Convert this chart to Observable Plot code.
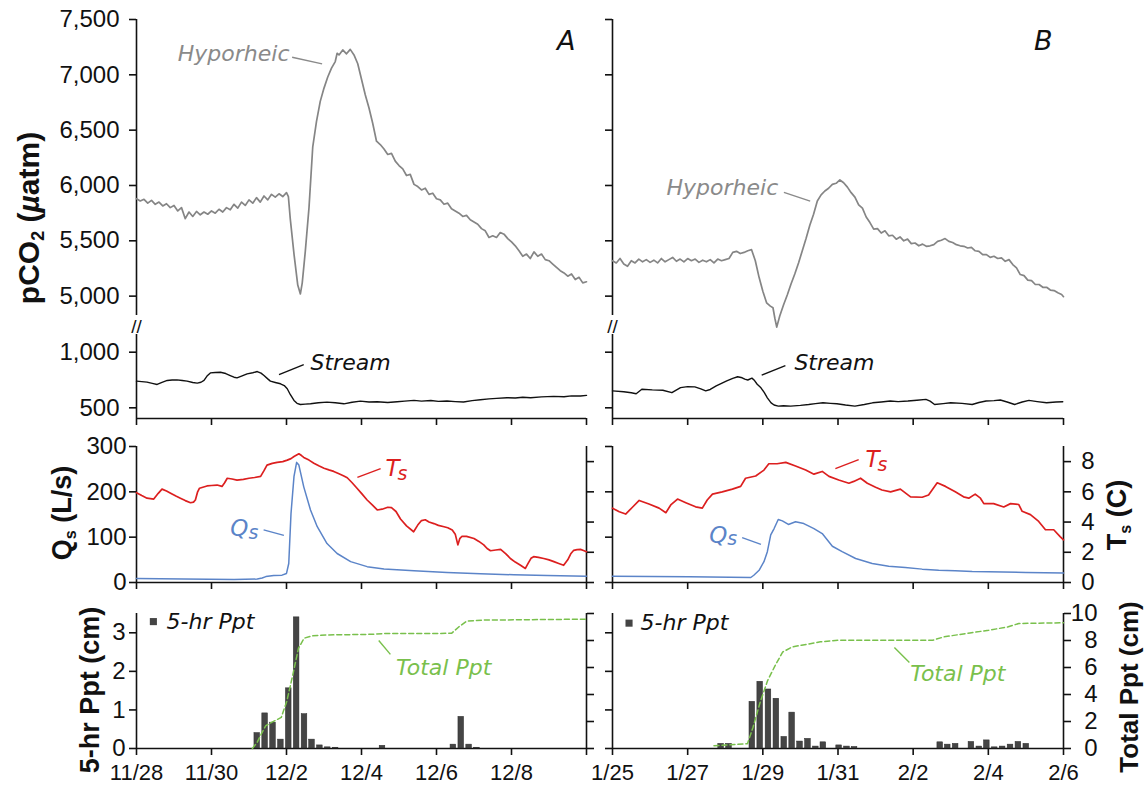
<!DOCTYPE html>
<html><head><meta charset="utf-8">
<script src="https://cdn.jsdelivr.net/npm/d3@7"></script>
<script src="https://cdn.jsdelivr.net/npm/@observablehq/plot@0.6"></script>
<style>
body{margin:0;background:#fff;}
#fig{position:relative;width:1147px;height:788px;overflow:hidden;background:#fff;font-family:"Liberation Sans",Arial,Helvetica,sans-serif;}
#fig svg{position:absolute;background:transparent;overflow:visible;}
.ttl{position:absolute;white-space:nowrap;font-weight:bold;color:#111;transform:translate(-50%,-50%) rotate(-90deg);line-height:1;}
.ttl sub{font-size:0.6em;vertical-align:baseline;position:relative;top:0.3em;}
</style></head><body><div id="fig">
<div class="ttl" style="left:29px;top:218px;font-size:30px">pCO<sub>2</sub> (<i>µ</i>atm)</div>
<div class="ttl" style="left:62px;top:513px;font-size:27px">Q<sub>s</sub> (L/s)</div>
<div class="ttl" style="left:90px;top:690px;font-size:27px">5-hr Ppt (cm)</div>
<div class="ttl" style="left:1117px;top:515px;font-size:27px">T<sub>s</sub> (C)</div>
<div class="ttl" style="left:1129px;top:687px;font-size:26px">Total Ppt (cm)</div>
</div>
<script>
// ---------------- data (x = days since first tick of each panel) ----------------
const xTickDays = [0, 2, 4, 6, 8, 10, 12];
const xLabelsA = ["11/28", "11/30", "12/2", "12/4", "12/6", "12/8", ""];
const xLabelsB = ["1/25", "1/27", "1/29", "1/31", "2/2", "2/4", "2/6"];
const hypTicks = [5000, 5500, 6000, 6500, 7000, 7500];
const streamTicks = [500, 1000];
const qTicks = [0, 100, 200, 300];
const tsTicks = [0, 2, 4, 6, 8];
const pptTicks = [0, 1, 2, 3];
const totTicks = [0, 2, 4, 6, 8, 10];

const hypDomain = [4825, 7500];
const streamDomain = [404, 1159];
const qDomain = [0, 300];
const tsMax = 9;
const pptDomain = [0, 3.5];
const totMax = 10;

const hyporheicA = [[0,5880],[0.1,5860],[0.2,5875],[0.3,5840],[0.4,5865],[0.5,5830],[0.6,5850],[0.7,5815],[0.8,5835],[0.9,5800],[1.0,5820],[1.1,5770],[1.2,5800],[1.3,5700],[1.4,5760],[1.5,5720],[1.6,5765],[1.7,5735],[1.8,5760],[1.9,5740],[2.0,5770],[2.1,5750],[2.2,5785],[2.3,5760],[2.4,5800],[2.5,5780],[2.6,5830],[2.7,5795],[2.8,5850],[2.9,5820],[3.0,5870],[3.1,5840],[3.2,5890],[3.3,5850],[3.4,5905],[3.5,5870],[3.6,5920],[3.7,5895],[3.8,5925],[3.9,5900],[4.0,5935],[4.05,5900],[4.1,5700],[4.2,5380],[4.3,5100],[4.37,5020],[4.42,5120],[4.5,5400],[4.6,5800],[4.7,6350],[4.8,6580],[4.9,6760],[5.0,6880],[5.1,6980],[5.2,7060],[5.3,7120],[5.35,7195],[5.4,7180],[5.5,7225],[5.6,7190],[5.7,7230],[5.8,7180],[5.9,7100],[6.0,6960],[6.1,6820],[6.2,6700],[6.3,6560],[6.4,6400],[6.5,6370],[6.6,6330],[6.7,6280],[6.8,6290],[6.9,6220],[7.0,6180],[7.1,6150],[7.2,6090],[7.3,6100],[7.4,6010],[7.5,5990],[7.6,5960],[7.7,5975],[7.8,5920],[7.9,5930],[8.0,5880],[8.1,5870],[8.2,5830],[8.3,5840],[8.4,5790],[8.5,5770],[8.6,5750],[8.7,5720],[8.8,5730],[8.9,5690],[9.0,5670],[9.1,5650],[9.2,5610],[9.3,5590],[9.4,5530],[9.5,5545],[9.6,5530],[9.7,5575],[9.8,5560],[9.9,5520],[10.0,5490],[10.1,5455],[10.2,5410],[10.3,5360],[10.4,5380],[10.5,5340],[10.6,5400],[10.7,5360],[10.8,5380],[10.9,5330],[11.0,5320],[11.1,5290],[11.2,5260],[11.3,5230],[11.4,5210],[11.5,5180],[11.6,5200],[11.7,5150],[11.8,5170],[11.9,5120],[12.0,5130]];

const hyporheicB = [[0,5320],[0.1,5300],[0.2,5340],[0.3,5290],[0.4,5270],[0.5,5320],[0.6,5300],[0.7,5335],[0.8,5310],[0.9,5330],[1.0,5305],[1.1,5325],[1.2,5300],[1.3,5340],[1.4,5310],[1.5,5330],[1.6,5350],[1.7,5315],[1.8,5335],[1.9,5310],[2.0,5340],[2.1,5320],[2.2,5335],[2.3,5305],[2.4,5325],[2.5,5310],[2.6,5330],[2.7,5300],[2.8,5335],[2.9,5320],[3.0,5330],[3.1,5340],[3.2,5395],[3.3,5405],[3.4,5385],[3.5,5395],[3.6,5410],[3.7,5420],[3.8,5320],[3.9,5170],[4.0,5045],[4.1,4940],[4.2,4910],[4.27,4895],[4.32,4800],[4.37,4720],[4.45,4820],[4.55,4920],[4.65,5010],[4.75,5110],[4.85,5200],[4.95,5300],[5.05,5410],[5.15,5520],[5.25,5640],[5.35,5740],[5.45,5860],[5.55,5915],[5.65,5950],[5.75,5975],[5.85,6010],[5.95,6020],[6.05,6050],[6.15,6025],[6.25,5985],[6.35,5935],[6.45,5895],[6.55,5825],[6.65,5795],[6.75,5715],[6.85,5665],[6.95,5605],[7.05,5610],[7.15,5570],[7.25,5590],[7.35,5545],[7.45,5550],[7.55,5515],[7.65,5535],[7.75,5500],[7.85,5515],[7.95,5475],[8.05,5480],[8.15,5455],[8.25,5470],[8.35,5450],[8.45,5455],[8.55,5465],[8.65,5495],[8.75,5505],[8.85,5520],[8.95,5495],[9.05,5485],[9.15,5465],[9.25,5455],[9.35,5450],[9.45,5435],[9.55,5440],[9.65,5410],[9.75,5405],[9.85,5375],[9.95,5375],[10.05,5350],[10.15,5360],[10.25,5340],[10.35,5345],[10.45,5315],[10.55,5330],[10.65,5285],[10.75,5255],[10.85,5195],[10.95,5185],[11.05,5145],[11.15,5140],[11.25,5105],[11.35,5105],[11.45,5080],[11.55,5080],[11.65,5055],[11.75,5050],[11.85,5030],[11.95,5015],[12.0,4995]];

const streamA = [[0,740],[0.14,735],[0.28,731],[0.42,720],[0.55,710],[0.68,728],[0.82,746],[0.95,750],[1.08,751],[1.22,745],[1.35,740],[1.5,728],[1.62,722],[1.72,730],[1.8,746],[1.88,785],[1.97,814],[2.1,818],[2.24,820],[2.38,808],[2.5,790],[2.6,775],[2.68,769],[2.8,785],[2.95,805],[3.1,815],[3.22,826],[3.32,812],[3.4,790],[3.5,760],[3.57,740],[3.7,728],[3.84,716],[3.94,700],[4.02,671],[4.1,620],[4.2,566],[4.28,540],[4.37,530],[4.5,533],[4.64,536],[4.85,545],[5.08,551],[5.3,545],[5.53,536],[5.75,550],[5.97,560],[6.2,552],[6.42,554],[6.7,548],[6.95,554],[7.15,560],[7.4,567],[7.6,560],[7.85,566],[8.05,558],[8.28,561],[8.5,556],[8.72,552],[8.95,565],[9.17,573],[9.4,580],[9.6,585],[9.88,591],[10.1,588],[10.3,595],[10.51,591],[10.8,598],[11.12,603],[11.4,600],[11.6,607],[11.84,606],[12,612]];

const streamB = [[0,652],[0.3,645],[0.5,635],[0.63,627],[0.78,667],[1.06,661],[1.34,658],[1.58,636],[1.81,682],[2.0,690],[2.19,688],[2.35,670],[2.48,652],[2.6,665],[2.76,697],[2.9,720],[3.04,742],[3.2,765],[3.33,779],[3.45,770],[3.52,758],[3.6,750],[3.71,767],[3.78,745],[3.85,712],[3.95,680],[4.04,636],[4.12,590],[4.22,545],[4.3,525],[4.41,515],[4.55,518],[4.74,515],[5.0,522],[5.22,530],[5.4,538],[5.6,545],[5.8,540],[5.97,536],[6.2,525],[6.45,515],[6.7,530],[6.92,545],[7.15,552],[7.39,561],[7.6,556],[7.86,561],[8.1,568],[8.34,576],[8.45,560],[8.57,530],[8.8,538],[9.0,545],[9.3,540],[9.57,530],[9.75,548],[9.94,561],[10.15,565],[10.32,570],[10.5,552],[10.7,530],[10.9,552],[11.08,567],[11.3,556],[11.55,545],[11.8,552],[11.98,554]];

const tsA = [[0,5.94],[0.14,5.75],[0.28,5.58],[0.46,5.52],[0.58,5.9],[0.68,6.18],[0.8,6.05],[0.91,5.91],[1.05,5.72],[1.17,5.58],[1.3,5.42],[1.44,5.28],[1.52,5.32],[1.57,5.46],[1.63,6.0],[1.68,6.24],[1.88,6.39],[2.0,6.42],[2.15,6.45],[2.28,6.36],[2.35,6.6],[2.42,6.9],[2.55,6.85],[2.68,6.78],[2.85,6.82],[3.0,6.9],[3.15,6.95],[3.31,7.02],[3.4,7.4],[3.48,7.77],[3.62,7.88],[3.75,7.95],[3.9,8.0],[4.02,8.1],[4.12,8.2],[4.2,8.34],[4.33,8.52],[4.4,8.4],[4.46,8.28],[4.6,8.1],[4.73,7.89],[4.86,7.72],[5.0,7.56],[5.13,7.45],[5.26,7.35],[5.4,7.2],[5.53,7.05],[5.62,6.93],[5.75,6.6],[5.88,6.24],[6.0,5.9],[6.15,5.46],[6.3,5.1],[6.42,4.8],[6.55,4.85],[6.7,4.98],[6.8,4.95],[6.92,4.7],[7.04,4.2],[7.2,3.75],[7.39,3.36],[7.5,3.8],[7.6,4.1],[7.7,4.15],[7.8,4.0],[7.93,3.9],[8.05,3.78],[8.2,3.69],[8.3,3.62],[8.42,3.48],[8.5,3.2],[8.57,2.49],[8.62,2.9],[8.68,3.06],[8.8,3.05],[9.0,2.91],[9.13,2.72],[9.26,2.49],[9.35,2.25],[9.44,2.1],[9.58,2.15],[9.71,2.19],[9.85,1.9],[9.97,1.59],[10.1,1.35],[10.24,1.14],[10.37,0.93],[10.45,1.3],[10.52,1.6],[10.59,1.71],[10.72,1.66],[10.86,1.59],[11.0,1.5],[11.13,1.38],[11.26,1.26],[11.39,1.14],[11.5,1.5],[11.58,1.9],[11.66,2.13],[11.75,2.18],[11.84,2.19],[11.92,2.12],[12,2.04]];

const tsB = [[0,4.92],[0.18,4.68],[0.35,4.53],[0.53,4.98],[0.71,5.43],[0.97,5.19],[1.24,4.92],[1.42,4.62],[1.55,5.13],[1.73,5.52],[1.95,5.28],[2.21,5.01],[2.39,4.92],[2.52,5.46],[2.66,5.85],[2.92,6.0],[3.19,6.18],[3.41,6.36],[3.54,6.9],[3.81,7.05],[4.03,7.44],[4.16,7.86],[4.38,7.86],[4.61,7.95],[4.87,7.71],[5.14,7.44],[5.36,7.17],[5.58,7.35],[5.76,7.02],[6.02,6.78],[6.29,6.57],[6.42,6.69],[6.6,6.9],[6.78,6.57],[7.0,6.3],[7.17,6.12],[7.4,6.0],[7.66,6.18],[7.93,5.67],[8.24,5.64],[8.41,5.79],[8.64,6.6],[8.86,6.36],[9.12,6.0],[9.34,5.67],[9.48,5.58],[9.65,5.85],[9.79,5.58],[9.88,5.22],[10.14,5.22],[10.41,5.0],[10.59,5.22],[10.81,5.16],[10.9,4.71],[11.12,4.49],[11.34,4.04],[11.52,3.49],[11.74,3.49],[11.91,3.04],[12,2.82]];

const qsA = [[0,9],[1.26,7.5],[2.6,6.8],[3.22,7.5],[3.35,10],[3.45,13],[3.66,15.5],[3.88,16.2],[4.0,20],[4.06,42],[4.12,152],[4.2,234],[4.27,265],[4.33,259],[4.46,211],[4.64,160],[4.82,123],[5.08,86],[5.35,64],[5.71,46],[6.15,35],[6.6,30],[7.4,26],[8.28,22],[9.17,19.5],[10.06,17],[10.95,15.5],[12,14]];

const qsB = [[0,14],[2.04,12.5],[3.68,11],[3.76,16],[3.9,27],[4.03,46],[4.12,68],[4.21,105],[4.3,119],[4.41,139],[4.52,136],[4.68,128],[4.87,134],[5.09,130],[5.36,119],[5.58,108],[5.85,80],[6.11,68],[6.47,53],[6.91,42],[7.35,36],[7.79,33],[8.24,29.5],[8.68,27],[9.12,26],[9.57,24],[10.0,23.6],[11.0,22],[12,21]];

const ppt5hrA = [[3.22,0.40],[3.43,0.91],[3.64,0.67],[3.85,0.23],[4.06,1.56],[4.27,3.40],[4.48,0.89],[4.68,0.23],[4.89,0.08],[5.10,0.03],[5.31,0.02],[6.56,0.07],[8.45,0.10],[8.66,0.82],[8.87,0.10],[9.08,0.02]];

const ppt5hrB = [[2.89,0.12],[3.10,0.12],[3.72,1.21],[3.93,1.73],[4.15,1.53],[4.36,1.29],[4.57,0.30],[4.78,0.93],[4.99,0.18],[5.2,0.25],[5.41,0.05],[5.61,0.16],[6.03,0.08],[6.24,0.05],[6.44,0.04],[8.72,0.16],[8.92,0.10],[9.13,0.12],[9.55,0.17],[9.76,0.05],[9.96,0.21],[10.17,0.03],[10.38,0.05],[10.59,0.10],[10.80,0.17],[11.01,0.12]];

const totalA = [[3.09,0],[3.22,0.46],[3.35,1.2],[3.45,1.69],[3.6,1.93],[3.86,2.3],[4.01,3.52],[4.16,5.35],[4.32,7.43],[4.47,8.17],[4.67,8.34],[5.08,8.41],[6.31,8.46],[6.61,8.51],[8.4,8.53],[8.6,9.02],[8.81,9.44],[9.27,9.51],[12,9.58]];

const totalB = [[2.7,0.2],[3.59,0.35],[3.74,1.58],[3.93,3.44],[4.13,5.05],[4.33,6.16],[4.53,7.15],[4.78,7.52],[5.03,7.65],[5.53,7.9],[6.02,8.02],[8.52,8.02],[8.82,8.27],[9.51,8.56],[10.01,8.76],[10.51,9.0],[10.81,9.26],[12,9.31]];

// ---------------- styling / layout ----------------
const C = {hyp: "#858585", hypText: "#8a8a8a", stream: "#111111", ts: "#dc1f1f", q: "#5b84c8",
           tot: "#79c04c", bar: "#454545", ink: "#111111"};
const ANN = "'DejaVu Sans', Verdana, sans-serif";
const TICKF = "'Liberation Sans', Arial, Helvetica, sans-serif";
const AXW = 1.6;
const tsToQ = qDomain[1] / tsMax;
const totToPpt = pptDomain[1] / totMax;
const fig = document.getElementById("fig");

const cols = {A: {left: 0, width: 600, ml: 136, mr: 14}, B: {left: 560, width: 587, ml: 52, mr: 84}};
const rows = {
  hyp: {top: 0, height: 340, mt: 19, mb: 25},
  str: {top: 326, height: 104, mt: 8, mb: 12},
  q:   {top: 436, height: 158, mt: 10, mb: 12},
  ppt: {top: 603, height: 185, mt: 10, mb: 40}
};

function panel(col, row, yDomain, marks) {
  const c = cols[col], r = rows[row];
  const svg = Plot.plot({
    width: c.width, height: r.height,
    marginLeft: c.ml, marginRight: c.mr, marginTop: r.mt, marginBottom: r.mb,
    x: {domain: [0, 12], axis: null},
    y: {domain: yDomain, axis: null},
    style: {background: "transparent", overflow: "visible", fontFamily: TICKF, color: C.ink},
    marks
  });
  svg.style.position = "absolute";
  svg.style.left = c.left + "px";
  svg.style.top = r.top + "px";
  fig.appendChild(svg);
}

const blank = () => "";
function yAxis(anchor, ticks, fmt, pad, o = {}) {
  return Plot.axisY({anchor, ticks, tickFormat: fmt || blank, tickSize: 7, tickPadding: pad,
    fontSize: 24, strokeWidth: AXW, label: null, ...o});
}
function xAxis(labels) {
  return Plot.axisX({anchor: "bottom", ticks: xTickDays,
    tickFormat: labels ? (d => labels[xTickDays.indexOf(d)]) : blank,
    tickSize: 7, tickPadding: 9, fontSize: 22, strokeWidth: AXW, label: null});
}
const lineL = () => Plot.ruleX([0], {strokeWidth: AXW});
const lineR = () => Plot.ruleX([12], {strokeWidth: AXW});
const lineB = (y0) => Plot.ruleY([y0], {strokeWidth: AXW});
function label(txt, x, y, o = {}) {
  return Plot.text([txt], {x: [x], y: [y], text: d => d, fontFamily: ANN, fontStyle: "italic",
    fontSize: 22, ...o});
}
function leader(x1, y1, x2, y2, stroke) {
  return Plot.link([0], {x1: [x1], y1: [y1], x2: [x2], y2: [y2], stroke, strokeWidth: 1.4});
}
function subLabelEnd(main, sub, x, y, fill, w) {
  return [label(sub, x, y, {textAnchor: "end", fill, fontSize: 19, dy: 4}),
          label(main, x, y, {textAnchor: "end", fill, fontSize: 23, dx: -w})];
}
function subLabelStart(main, sub, x, y, fill, w) {
  return [label(main, x, y, {textAnchor: "start", fill, fontSize: 23}),
          label(sub, x, y, {textAnchor: "start", fill, fontSize: 19, dx: w, dy: 5})];
}
const breakMark = () => Plot.text(["//"], {text: d => d, frameAnchor: "top-left", dy: -8,
  lineAnchor: "middle", fontSize: 19, textAnchor: "middle", fontFamily: TICKF});
const panelLetter = (t) => Plot.text([t], {text: d => d, frameAnchor: "top-right", dx: -11, dy: 22,
  lineAnchor: "middle", textAnchor: "end", fontFamily: ANN, fontStyle: "italic", fontSize: 27, fill: C.ink});
const XY = {x: d => d[0], y: d => d[1]};

// ---------------- row 1: hyporheic pCO2 ----------------
panel("A", "hyp", hypDomain, [
  lineL(),
  yAxis("left", hypTicks, d3.format(","), 10),
  Plot.line(hyporheicA, {...XY, stroke: C.hyp, strokeWidth: 1.7}),
  label("Hyporheic", 4.08, 7193, {textAnchor: "end", fill: C.hypText}),
  leader(4.15, 7159, 4.95, 7099, C.hypText),
  panelLetter("A")
]);
panel("B", "hyp", hypDomain, [
  lineL(),
  yAxis("left", hypTicks, null, 10),
  Plot.line(hyporheicB, {...XY, stroke: C.hyp, strokeWidth: 1.7}),
  label("Hyporheic", 4.41, 5979, {textAnchor: "end", fill: C.hypText}),
  leader(4.56, 5937, 5.26, 5859, C.hypText),
  panelLetter("B")
]);

// ---------------- row 2: stream pCO2 ----------------
panel("A", "str", streamDomain, [
  lineL(), lineB(streamDomain[0]),
  yAxis("left", streamTicks, d3.format(","), 10),
  xAxis(null),
  Plot.line(streamA, {...XY, stroke: C.stream, strokeWidth: 1.4}),
  label("Stream", 4.64, 901, {textAnchor: "start", fill: C.ink}),
  leader(3.8, 799, 4.46, 889, C.ink),
  breakMark()
]);
panel("B", "str", streamDomain, [
  lineL(), lineB(streamDomain[0]),
  yAxis("left", streamTicks, null, 10),
  xAxis(null),
  Plot.line(streamB, {...XY, stroke: C.stream, strokeWidth: 1.4}),
  label("Stream", 4.84, 900, {textAnchor: "start", fill: C.ink}),
  leader(3.97, 794, 4.6, 879, C.ink),
  breakMark()
]);

// ---------------- row 3: discharge and temperature ----------------
const tsFmt = d => String(Math.round(d / tsToQ));
panel("A", "q", qDomain, [
  lineL(), lineR(), lineB(0),
  yAxis("left", qTicks, d3.format(","), 3),
  yAxis("right", tsTicks.map(t => t * tsToQ), null, 24),
  xAxis(null),
  Plot.line(tsA, {x: d => d[0], y: d => d[1] * tsToQ, stroke: C.ts, strokeWidth: 1.7}),
  Plot.line(qsA, {...XY, stroke: C.q, strokeWidth: 1.5}),
  ...subLabelStart("T", "s", 6.64, 251, C.ts, 12),
  leader(5.89, 232, 6.51, 251, C.ts),
  ...subLabelEnd("Q", "s", 3.25, 119, C.q, 10),
  leader(3.39, 116, 3.93, 104, C.q)
]);
panel("B", "q", qDomain, [
  lineL(), lineR(), lineB(0),
  yAxis("left", qTicks, null, 3),
  yAxis("right", tsTicks.map(t => t * tsToQ), tsFmt, 24, {textAnchor: "end"}),
  xAxis(null),
  Plot.line(tsB, {x: d => d[0], y: d => d[1] * tsToQ, stroke: C.ts, strokeWidth: 1.7}),
  Plot.line(qsB, {...XY, stroke: C.q, strokeWidth: 1.5}),
  ...subLabelStart("T", "s", 6.73, 271, C.ts, 12),
  leader(5.93, 251, 6.55, 271, C.ts),
  ...subLabelEnd("Q", "s", 3.32, 104, C.q, 10),
  leader(3.45, 99, 3.95, 84, C.q)
]);

// ---------------- row 4: precipitation ----------------
const halfBin = 5 / 24 / 2;
const totFmt = d => String(Math.round(d / totToPpt));
function pptMarks(bars, total) {
  return [
    Plot.rect(bars, {x1: d => d[0] - halfBin, x2: d => d[0] + halfBin, y1: 0, y2: d => d[1],
      insetLeft: 1.1, insetRight: 1.1, fill: C.bar, stroke: "#2a2a2a", strokeWidth: 0.5}),
    Plot.line(total, {x: d => d[0], y: d => d[1] * totToPpt, stroke: C.tot, strokeWidth: 1.5,
      strokeDasharray: "5,3"})
  ];
}
panel("A", "ppt", pptDomain, [
  lineL(), lineR(), lineB(0),
  yAxis("left", pptTicks, d3.format("d"), 4),
  yAxis("right", totTicks.map(t => t * totToPpt), null, 24),
  xAxis(xLabelsA),
  ...pptMarks(ppt5hrA, totalA),
  Plot.dot([0], {x: [0.45], y: [3.29], symbol: "square", r: 4, fill: "#444", stroke: "none"}),
  label("5-hr Ppt", 0.8, 3.27, {textAnchor: "start", fill: C.ink}),
  label("Total Ppt", 6.92, 2.1, {textAnchor: "start", fill: C.tot}),
  leader(6.46, 2.8, 6.77, 2.44, C.tot)
]);
panel("B", "ppt", pptDomain, [
  lineL(), lineR(), lineB(0),
  yAxis("left", pptTicks, null, 4),
  yAxis("right", totTicks.map(t => t * totToPpt), totFmt, 27, {textAnchor: "end"}),
  xAxis(xLabelsB),
  ...pptMarks(ppt5hrB, totalB),
  Plot.dot([0], {x: [0.44], y: [3.25], symbol: "square", r: 4, fill: "#444", stroke: "none"}),
  label("5-hr Ppt", 0.745, 3.25, {textAnchor: "start", fill: C.ink}),
  label("Total Ppt", 7.92, 1.92, {textAnchor: "start", fill: C.tot}),
  leader(7.5, 2.62, 7.9, 2.23, C.tot)
]);
</script></body></html>
